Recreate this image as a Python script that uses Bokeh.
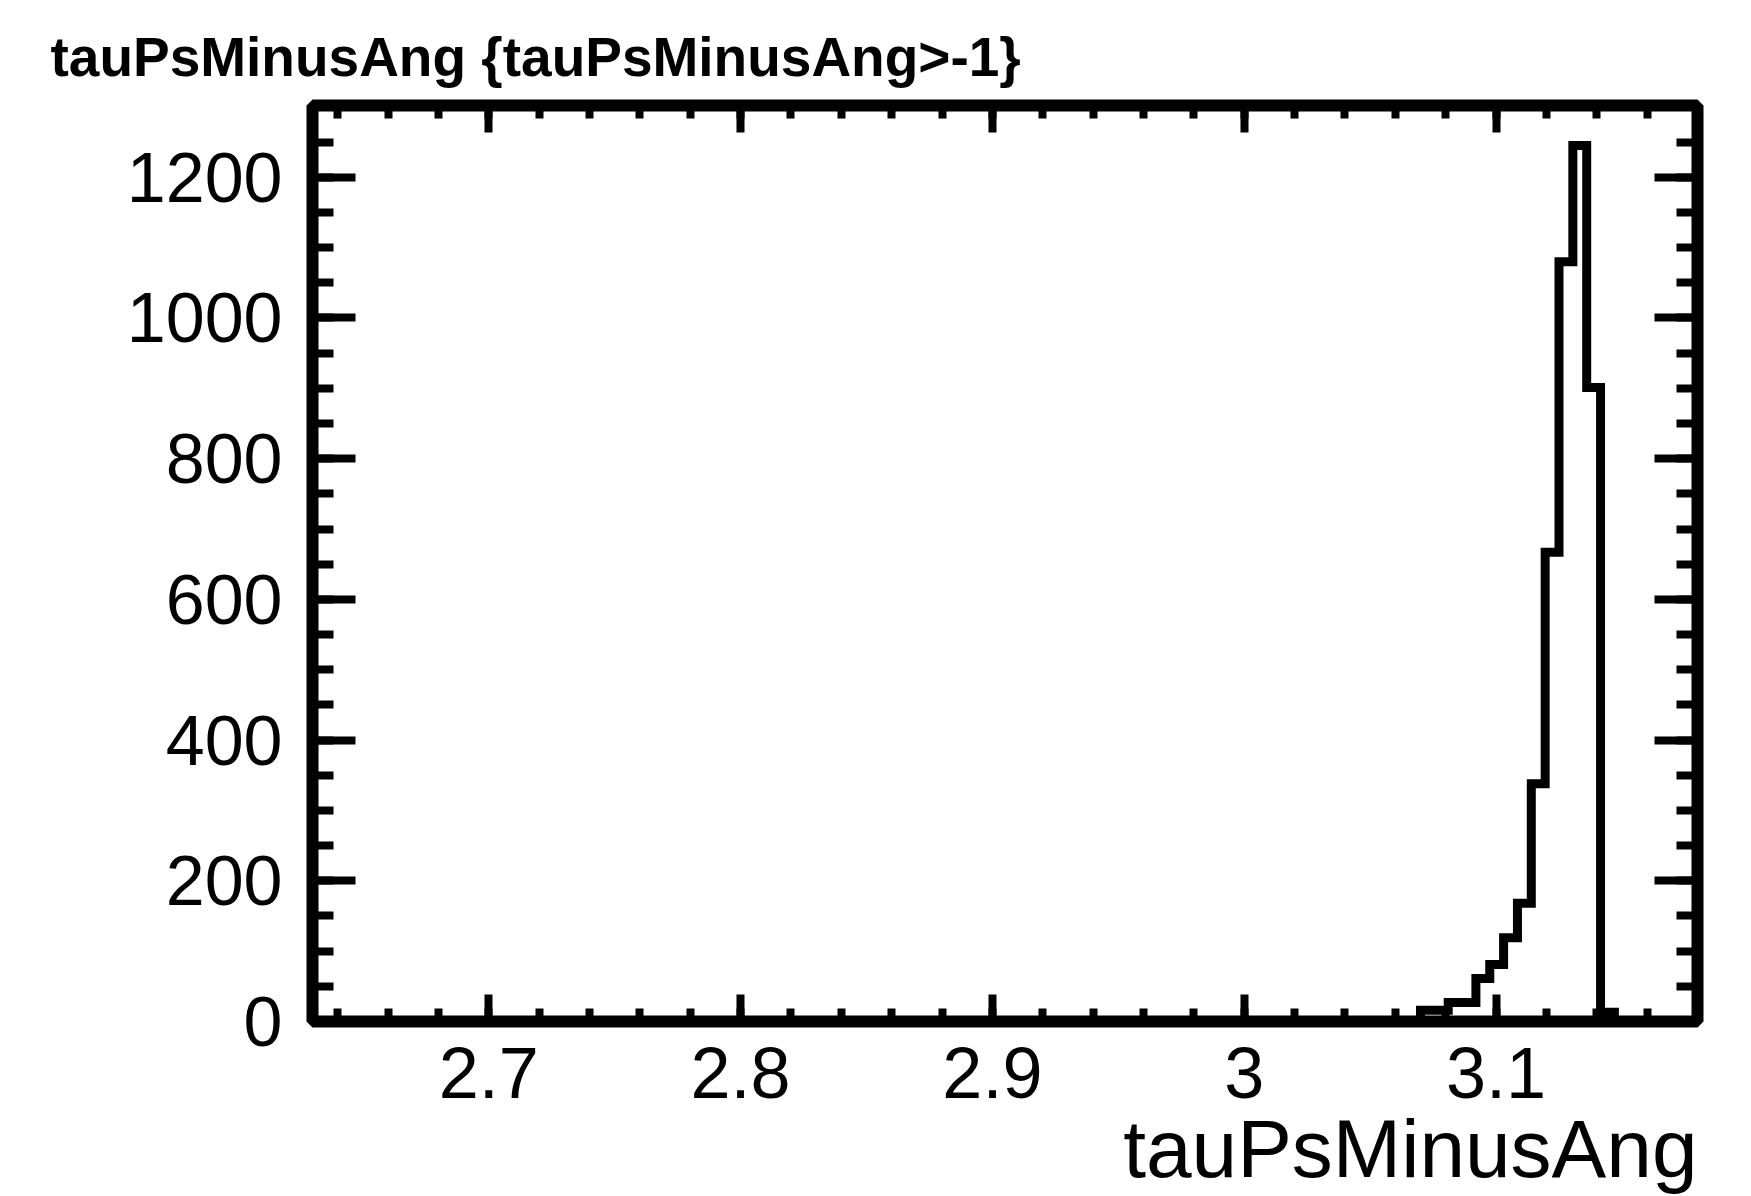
from bokeh.plotting import figure
from bokeh.models import (LinearAxis, FixedTicker, Range1d, Title,
                          CustomJSTickFormatter)
from bokeh.embed import file_html
from bokeh.resources import INLINE

# ---------------- data ----------------
TITLE = "tauPsMinusAng {tauPsMinusAng>-1}"
X_TITLE = "tauPsMinusAng"
N_BINS = 100
X_MIN = 2.63
X_MAX = 3.18
Y_MAX = 1302
first_filled_bin = 80
filled_counts = [16, 16, 27, 27, 61, 81, 119, 168, 338, 667, 1080, 1245, 901, 13]

x_major = [2.7, 2.8, 2.9, 3.0, 3.1]
x_labels = ["2.7", "2.8", "2.9", "3", "3.1"]
y_major = [0, 200, 400, 600, 800, 1000, 1200]
y_labels = ["0", "200", "400", "600", "800", "1000", "1200"]

# ---------------- histogram arrays ----------------
bw = (X_MAX - X_MIN) / N_BINS
counts = [0] * N_BINS
for i, c in enumerate(filled_counts):
    counts[first_filled_bin + i] = c
edges = [X_MIN + i * bw for i in range(N_BINS + 1)]
step_y = counts + [counts[-1]]

x_minor = [round(X_MIN + 0.01 + 0.02 * k, 4) for k in range(0, 28)]
x_minor = [v for v in x_minor if X_MIN < v < X_MAX]
y_minor = [50 * k for k in range(0, 27) if 50 * k < Y_MAX]

# ---------------- figure ----------------
p = figure(width=1751, height=1196, output_backend="svg", toolbar_location=None,
           x_range=Range1d(X_MIN, X_MAX), y_range=Range1d(0, Y_MAX),
           x_axis_location=None, y_axis_location=None,
           min_border_left=312, min_border_right=54,
           min_border_top=105, min_border_bottom=175)
p.background_fill_color = "white"
p.border_fill_color = "white"
p.xgrid.visible = False
p.ygrid.visible = False
p.outline_line_color = "black"
p.outline_line_width = 12

FONT = "Liberation Sans"

def style_axis(ax, major_len, minor_len, show_labels, size):
    ax.axis_line_color = None
    ax.major_tick_in = major_len
    ax.major_tick_out = 0
    ax.minor_tick_in = minor_len
    ax.minor_tick_out = 0
    ax.major_tick_line_width = 8
    ax.minor_tick_line_width = 8
    ax.major_tick_line_color = "black"
    ax.minor_tick_line_color = "black"
    ax.major_label_text_font = FONT
    ax.major_label_text_font_size = size
    ax.major_label_text_color = "black"
    if not show_labels:
        ax.formatter = CustomJSTickFormatter(code="return ''")
        ax.major_label_standoff = 0

xb = LinearAxis(ticker=FixedTicker(ticks=x_major, minor_ticks=x_minor))
style_axis(xb, 27, 13, True, "72px")
xb.major_label_overrides = {v: s for v, s in zip(x_major, x_labels)}
xb.major_label_standoff = 26
p.add_layout(xb, "below")

xt = LinearAxis(ticker=FixedTicker(ticks=x_major, minor_ticks=x_minor))
style_axis(xt, 27, 13, False, "10px")
p.add_layout(xt, "above")

yl = LinearAxis(ticker=FixedTicker(ticks=y_major, minor_ticks=y_minor))
style_axis(yl, 43, 21, True, "70px")
yl.major_label_overrides = {v: s for v, s in zip(y_major, y_labels)}
yl.major_label_standoff = 30
p.add_layout(yl, "left")

yr = LinearAxis(ticker=FixedTicker(ticks=y_major, minor_ticks=y_minor))
style_axis(yr, 43, 21, False, "10px")
p.add_layout(yr, "right")

# histogram outline
p.step(x=edges, y=step_y, mode="after", line_color="black", line_width=9,
       line_join="miter")

# texts
p.title.text = TITLE
p.title.align = "left"
p.title.offset = -262
p.title.text_font = FONT
p.title.text_font_style = "bold"
p.title.text_font_size = "55px"
p.title.text_color = "black"
p.title.standoff = 36

xtitle = Title(text=X_TITLE, align="right", text_font=FONT,
               text_font_style="normal", text_font_size="82px",
               text_color="black", standoff=0)
p.add_layout(xtitle, "below")

open("out.html", "w").write(file_html(p, INLINE))
